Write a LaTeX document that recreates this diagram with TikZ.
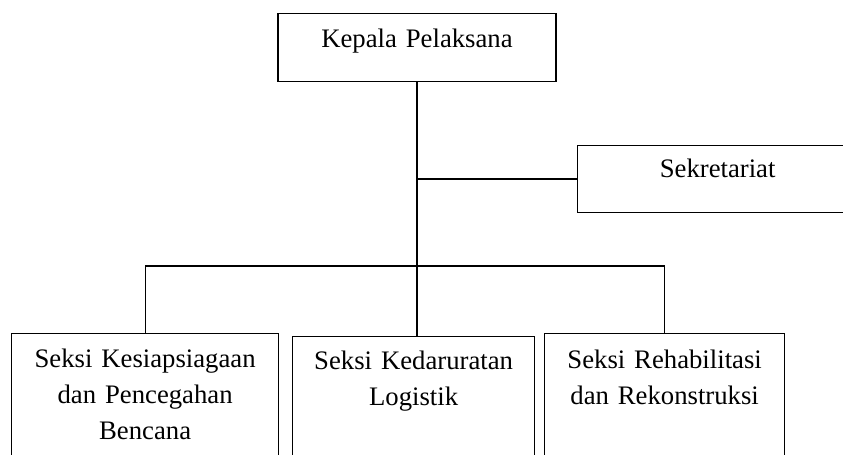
\documentclass[tikz,border=0pt]{standalone}
\usepackage{fontspec}
\setmainfont{Liberation Serif}
\usetikzlibrary{positioning,calc}

\begin{document}
\begin{tikzpicture}[
    unit/.style={draw, rectangle, inner sep=0pt, align=center,
                 font=\fontsize{19}{25.6}\selectfont, line width=0.9pt},
    seksi/.style={unit, anchor=north west, text depth=4cm},
    conn/.style={line width=0.9pt}
]
\clip (0,0) rectangle (21.075,11.375);

% Kepala
\node[unit, anchor=north, text width=6.95cm, text height=0.85cm, text depth=0.85cm]
    (kepala) at (10.425, 11.05) {Kepala Pelaksana};

% Sekretariat
\node[unit, anchor=north west, text width=7cm, text height=0.79cm, text depth=0.88cm]
    (sekretariat) at (14.425, 7.75) {Sekretariat};

% Seksi
\node[seksi, text width=6.675cm, text height=0.84cm] (seksiA) at (0.275, 3.05)
    {Seksi Kesiapsiagaan\\dan Pencegahan\\Bencana};
\node[seksi, text width=6.05cm, text height=0.825cm] (seksiB) at (7.3, 2.975)
    {Seksi Kedaruratan\\Logistik};
\node[seksi, text width=6cm, text height=0.875cm] (seksiC) at (13.6, 3.05)
    {Seksi Rehabilitasi\\dan Rekonstruksi};

% Lines
\coordinate (bus) at (10.425, 4.725);
\draw[conn] (kepala.south) -- (kepala.south |- seksiB.north);
\draw[conn] (kepala.south |- sekretariat.west) -- (sekretariat.west);
\draw[conn] (seksiA.north) |- (bus) -| (seksiC.north);

\end{tikzpicture}
\end{document}
